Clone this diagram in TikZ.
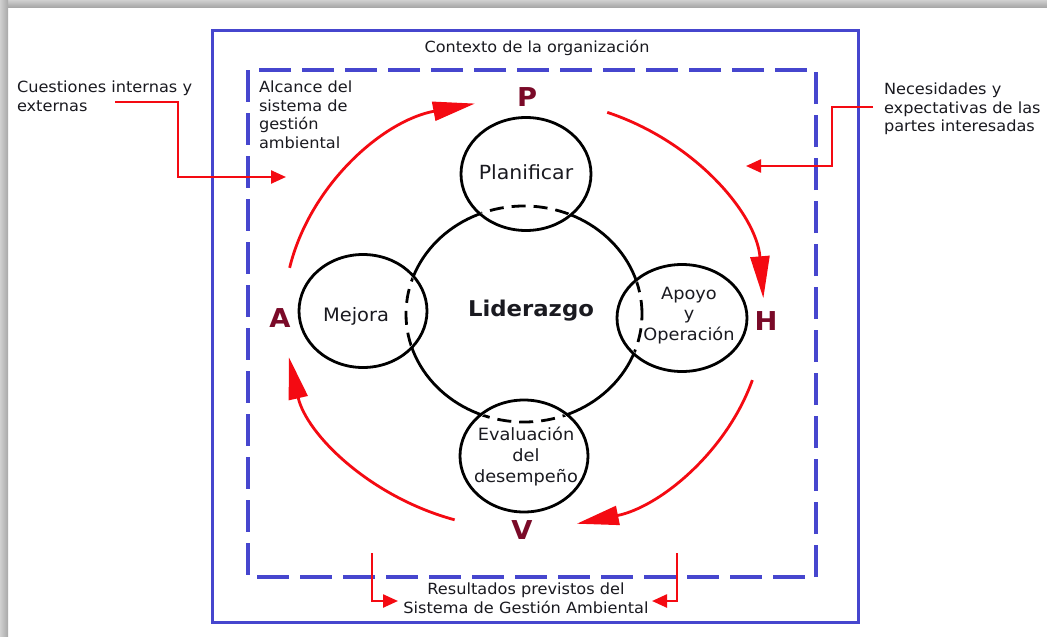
\documentclass[tikz,border=0pt]{standalone}
\usepackage{fontspec}
\setmainfont{DejaVu Sans}[FakeStretch=1.05]
\usetikzlibrary{arrows.meta,calc,shapes.geometric}
\definecolor{frameblue}{RGB}{70,70,206}
\definecolor{cyclered}{RGB}{244,10,18}
\definecolor{phva}{RGB}{122,10,40}
\definecolor{ink}{RGB}{26,26,32}

\begin{document}
\begin{tikzpicture}[x=1pt,y=-1pt,
  every node/.style={inner sep=0pt, outer sep=0pt, text=ink},
  note/.style={font=\fontsize{15.4}{18.5}\selectfont, align=left},
  ring/.style={draw=black, line width=2.8pt, ellipse, fill=white, inner sep=0pt},
  hidden/.style={draw=black, line width=2.8pt, dash pattern=on 14pt off 8pt},
  cyc/.style={draw=cyclered, line width=2.8pt, -{Triangle[length=42pt,width=19pt]}},
  feed/.style={draw=cyclered, line width=2.4pt, -{Triangle[length=15pt,width=13pt]}},
  letter/.style={font=\fontsize{26}{26}\selectfont\bfseries, text=phva},
  pdca/.style={font=\fontsize{16.9}{20.5}\selectfont, align=center},
]
\useasboundingbox (0,0) rectangle (1047,637);
\fill[white] (0,0) rectangle (1047,637);

% page shadow along the top and left edges
\shade[top color={rgb,255:red,208;green,208;blue,208}, bottom color={rgb,255:red,168;green,168;blue,168}] (0,0) rectangle (1047,7);
\shade[left color={rgb,255:red,208;green,208;blue,208}, right color={rgb,255:red,168;green,168;blue,168}] (0,0) rectangle (8,637);

% organisation context and scope of the system
\draw[frameblue, line width=3pt] (212,30) rectangle (858,622);
\draw[frameblue, line width=3.2pt, dash pattern=on 32pt off 11pt] (248,70) rectangle (816,577);

% leadership core and the four PDCA stages
\node[ring, minimum width=236pt, minimum height=216pt] (lid) at (524,314) {};
\node[ring, minimum width=130pt, minimum height=113pt] (plan) at (526,174) {};
\node[ring, minimum width=130pt, minimum height=107pt] (apoyo) at (682,318) {};
\node[ring, minimum width=128pt, minimum height=113pt] (mejora) at (363,311) {};
\node[ring, minimum width=128pt, minimum height=112pt] (eval) at (524,456) {};

% hidden parts of the core behind each stage
\begin{scope}
  \clip (plan.center) ellipse [x radius=63pt, y radius=54.5pt];
  \draw[hidden] (lid.center) ellipse [x radius=118pt, y radius=108pt];
\end{scope}
\begin{scope}
  \clip (apoyo.center) ellipse [x radius=63pt, y radius=51.5pt];
  \draw[hidden] (lid.center) ellipse [x radius=118pt, y radius=108pt];
\end{scope}
\begin{scope}
  \clip (mejora.center) ellipse [x radius=62pt, y radius=54.5pt];
  \draw[hidden] (lid.center) ellipse [x radius=118pt, y radius=108pt];
\end{scope}
\begin{scope}
  \clip (eval.center) ellipse [x radius=62pt, y radius=54pt];
  \draw[hidden] (lid.center) ellipse [x radius=118pt, y radius=108pt];
\end{scope}

\node[font=\fontsize{21.7}{24}\selectfont\bfseries, anchor=base] (lidtxt) at (531,316) {Liderazgo};
\node[font=\fontsize{19.5}{22}\selectfont, anchor=base] (plantxt) at (526,179) {Planificar};
\node[font=\fontsize{18.5}{22}\selectfont, anchor=base] (mejtxt) at (356,321) {Mejora};
\node[pdca] (apoyotxt) at (689,315.5) {Apoyo\\y\\Operación};
\node[pdca, font=\fontsize{16.9}{21}\selectfont] (evaltxt) at (526,456.5) {Evaluación\\del\\desempeño};

% PHVA letters
\node[letter] (P) at (527,97) {P};
\node[letter] (H) at (766,321) {H};
\node[letter] (V) at (522,530) {V};
\node[letter] (A) at (280,318) {A};

% cycle arrows around the core
\coordinate (ctr) at (524,314);
\coordinate (AtoP) at ($(ctr)+(167.6:240pt and 215pt)$);
\coordinate (PtoH) at ($(ctr)+(69.7:240pt and 215pt)$);
\coordinate (HtoV) at ($(ctr)+(-17.9:240pt and 215pt)$);
\coordinate (VtoA) at ($(ctr)+(-106.8:240pt and 215pt)$);
\draw[cyc] (AtoP) arc[start angle=167.6, end angle=101.8, x radius=240pt, y radius=215pt];
\draw[cyc] (PtoH) arc[start angle=69.7, end angle=4.2, x radius=240pt, y radius=215pt];
\draw[cyc] (HtoV) arc[start angle=-17.9, end angle=-77.3, x radius=240pt, y radius=215pt];
\draw[cyc] (VtoA) arc[start angle=-106.8, end angle=-168.4, x radius=240pt, y radius=215pt];

% texts
\node[font=\fontsize{15.3}{18}\selectfont, anchor=base] (ctx) at (537,52) {Contexto de la organización};
\node[note, anchor=north west] (alc) at (259,81) {Alcance del\\sistema de\\gestión\\ambiental};
\node[note, anchor=north west] (cue) at (17,81) {Cuestiones internas y\\externas};
\node[note, anchor=north west] (nec) at (884,83) {Necesidades y\\expectativas de las\\partes interesadas};
\node[note, align=center, anchor=north] (res) at (526,583) {Resultados previstos del\\Sistema de Gestión Ambiental};

% inputs and outputs of the system
\coordinate (cueS) at (115,102);
\coordinate (cueB) at (178,177);
\coordinate (cueT) at (286,177);
\draw[feed] (cueS) -| (cueB) -- (cueT);
\coordinate (necS) at (873,107);
\coordinate (necB) at (832,166);
\coordinate (necT) at (746,166);
\draw[feed] (necS) -| (necB) -- (necT);
\coordinate (resLS) at (372,553);
\coordinate (resLT) at (398,601);
\draw[feed] (resLS) |- (resLT);
\coordinate (resRS) at (677,553);
\coordinate (resRT) at (652,601);
\draw[feed] (resRS) |- (resRT);
\end{tikzpicture}
\end{document}
